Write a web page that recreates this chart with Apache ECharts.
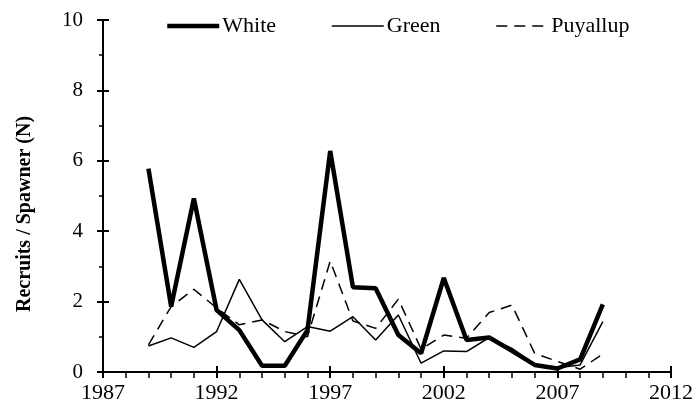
<!DOCTYPE html>
<html>
<head>
<meta charset="utf-8">
<script src="https://cdn.jsdelivr.net/npm/echarts@6/dist/echarts.min.js"></script>
<style>
html,body{margin:0;padding:0;background:#fff;}
#chart{width:696px;height:413px;}
</style>
</head>
<body>
<div id="chart"></div>
<script>
var years = [1989,1990,1991,1992,1993,1994,1995,1996,1997,1998,1999,2000,2001,2002,2003,2004,2005,2006,2007,2008,2009];
var white = [5.78,1.86,4.93,1.76,1.19,0.18,0.18,1.19,6.28,2.41,2.38,1.05,0.53,2.67,0.91,0.98,0.6,0.2,0.1,0.36,1.92];
var green = [0.74,0.97,0.70,1.15,2.63,1.48,0.86,1.29,1.16,1.57,0.91,1.62,0.25,0.6,0.58,0.98,0.67,0.22,0.12,0.2,1.43];
var puyallup = [0.77,1.86,2.35,1.82,1.34,1.48,1.15,1.0,3.15,1.45,1.24,2.07,0.65,1.05,0.96,1.69,1.9,0.53,0.3,0.08,0.51];
var xStart = 1987, xEnd = 2012, xStep = 5;
var yTicks = [0,2,4,6,8,10];
var seriesNames = ['White','Green','Puyallup'];

function pairs(vals){ return years.map(function(y,i){ return [y - xStart, vals[i]]; }); }

var font = 'Liberation Serif';
var styles = [
  {color:'#000', width:4.5, type:'solid'},
  {color:'#000', width:1.5, type:'solid'},
  {color:'#000', width:1.5, type:[11,7]}
];
var hiddenSym = {opacity:0, color:'rgba(0,0,0,0)', borderWidth:0};
var chart = echarts.init(document.getElementById('chart'), null, {renderer:'canvas'});
var axisLine = {show:true, lineStyle:{color:'#000', width:2}};
var option = {
  animation:false,
  backgroundColor:'#fff',
  textStyle:{fontFamily:font, color:'#000'},
  grid:{left:103, right:24, top:20, bottom:41, containLabel:false},
  legend:{
    data:seriesNames.map(function(n,i){ return {name:n, lineStyle:styles[i], itemStyle:hiddenSym}; }),
    left:160, top:10, itemWidth:52, itemHeight:14, itemGap:55,
    itemStyle:hiddenSym,
    textStyle:{fontFamily:font, fontSize:22, color:'#000', padding:[0,0,0,-2]}
  },
  xAxis:[{
    type:'value', min:0, max:xEnd - xStart, interval:xStep,
    axisLine:axisLine,
    axisTick:{show:true, inside:false, length:6, lineStyle:{color:'#000', width:2}},
    minorTick:{show:true, splitNumber:5, length:6, lineStyle:{color:'#000', width:1.5}},
    splitLine:{show:false},
    axisLabel:{fontFamily:font, fontSize:22, color:'#000', margin:10, formatter:function(v){return String(v + xStart);}}
  },{
    type:'value', min:0, max:xEnd - xStart, interval:xStep, position:'bottom',
    axisLine:{show:false},
    axisTick:{show:true, inside:true, length:6, lineStyle:{color:'#000', width:2}},
    axisLabel:{show:false}, splitLine:{show:false}
  }],
  yAxis:[{
    type:'value', min:yTicks[0], max:yTicks[yTicks.length-1], interval:2,
    axisLine:axisLine,
    axisTick:{show:true, inside:false, length:6, lineStyle:{color:'#000', width:2}},
    minorTick:{show:true, splitNumber:2, length:4, lineStyle:{color:'#000', width:1.5}},
    splitLine:{show:false},
    axisLabel:{fontFamily:font, fontSize:21, color:'#000', margin:20},
    name:'Recruits / Spawner (N)', nameLocation:'middle', nameGap:68,
    nameTextStyle:{fontFamily:font, fontSize:20, fontWeight:'bold', color:'#000', padding:[0,36,0,0]}
  },{
    type:'value', min:yTicks[0], max:yTicks[yTicks.length-1], interval:2, position:'left',
    axisLine:{show:false},
    axisTick:{show:true, inside:true, length:6, lineStyle:{color:'#000', width:2}},
    axisLabel:{show:false}, splitLine:{show:false}
  }],
  series:[
    {name:'White', type:'line', data:pairs(white), symbol:'none', lineStyle:styles[0], itemStyle:{color:'#000'}},
    {name:'Green', type:'line', data:pairs(green), symbol:'none', lineStyle:styles[1], itemStyle:{color:'#000'}},
    {name:'Puyallup', type:'line', data:pairs(puyallup), symbol:'none', lineStyle:styles[2], itemStyle:{color:'#000'}}
  ]
};
chart.setOption(option);
</script>
</body>
</html>
